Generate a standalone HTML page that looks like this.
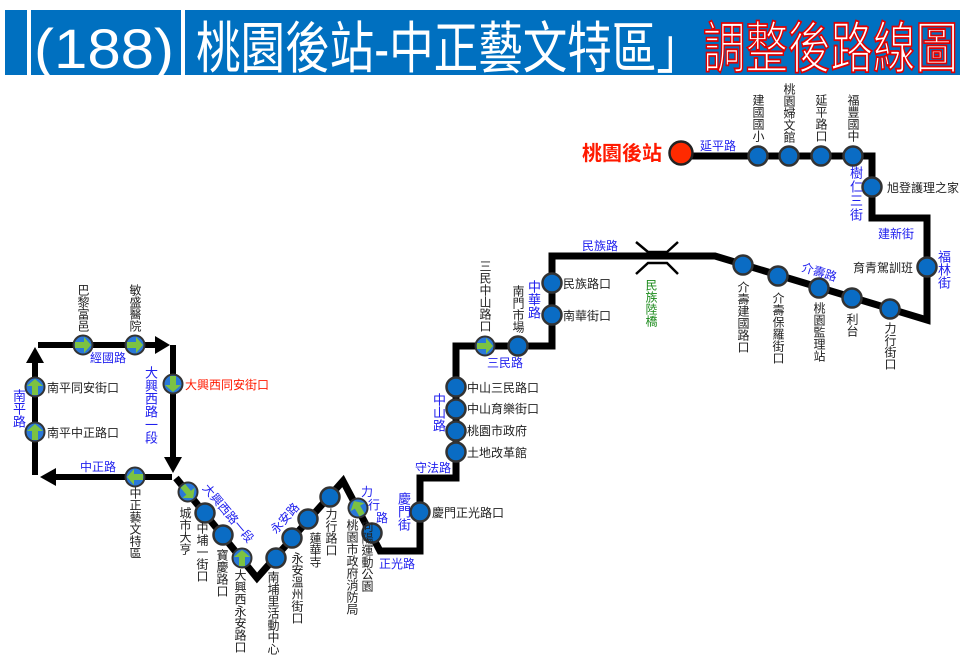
<!DOCTYPE html>
<html><head><meta charset="utf-8"><style>
body{margin:0;background:#fff;}
#w{position:relative;width:960px;height:665px;overflow:hidden;font-family:"Liberation Sans","Noto Sans CJK TC",sans-serif;}
svg{position:absolute;left:0;top:0;}
.v{position:absolute;writing-mode:vertical-rl;font-size:12px;line-height:12px;width:12px;color:#222;white-space:nowrap;font-family:"Liberation Sans","Noto Sans CJK TC",sans-serif;}
.b{color:#2020ee;font-size:13px;line-height:13px;width:13px;}
.g{color:#1a8a1a;}
</style></head><body><div id="w">
<svg width="960" height="665" viewBox="0 0 960 665" font-family="Liberation Sans, Noto Sans CJK TC, sans-serif">
<defs>
<g id="st"><circle r="9.5" fill="#0a6cc4" stroke="#333" stroke-width="2.5"/></g>
<g id="ga"><circle r="9.5" fill="#2a78d8" stroke="#333" stroke-width="2"/><path d="M-8,-3 H1 V-8 L8,0 L1,8 V3 H-8 Z" fill="#7cc242"/></g>
</defs>
<rect x="5" y="10" width="955" height="65" fill="#0070c0"/>
<rect x="27" y="10" width="4" height="65" fill="#fff"/>
<text x="34" y="68" font-size="56" fill="#fff" textLength="140" lengthAdjust="spacingAndGlyphs">(188)</text>
<rect x="181" y="10" width="4" height="65" fill="#fff"/>
<text x="196" y="68" font-size="56" fill="#fff" textLength="505" lengthAdjust="spacingAndGlyphs">桃園後站-中正藝文特區」</text>
<text x="703" y="68" font-size="56" fill="#fff" stroke="#e00000" stroke-width="1.8" textLength="255" lengthAdjust="spacingAndGlyphs">調整後路線圖</text>

<g fill="none" stroke="#000" stroke-width="7" stroke-linejoin="miter">
<polyline points="681,156 872,156 872,218 927,218 927,320 715,256 552,256 552,346 456,346 456,478 420,478 420,551 380,551 343,481 257,578 176,478"/>
</g>
<g stroke="#000" stroke-width="6" fill="none">
<line x1="38" y1="345" x2="157" y2="345"/>
<line x1="173" y1="345" x2="173" y2="458"/>
<line x1="172" y1="477" x2="55" y2="477"/>
<line x1="35" y1="475" x2="35" y2="362"/>
</g>
<g fill="#000">
<polygon points="155,336 170,345 155,354"/>
<polygon points="164,457 173,473 182,457"/>
<polygon points="56,468 40,477 56,486"/>
<polygon points="26,363 35,347 44,363"/>
</g>
<circle cx="681" cy="153" r="11.5" fill="#ff2a00" stroke="#222" stroke-width="2.5"/>
<g>
<use href="#st" x="758" y="156"/><use href="#st" x="789" y="156"/><use href="#st" x="821" y="156"/><use href="#st" x="853" y="156"/>
<use href="#st" x="872" y="187"/><use href="#st" x="927" y="267"/>
<use href="#st" x="890" y="309"/><use href="#st" x="852" y="298"/><use href="#st" x="819" y="288"/><use href="#st" x="778" y="276"/><use href="#st" x="743" y="265"/>
<use href="#st" x="552" y="283"/><use href="#st" x="552" y="315"/><use href="#st" x="518" y="346"/>
<use href="#st" x="456" y="387"/><use href="#st" x="456" y="409"/><use href="#st" x="456" y="431"/><use href="#st" x="456" y="452"/>
<use href="#st" x="420" y="512"/><use href="#st" x="372" y="533"/>
<use href="#st" x="330" y="497"/><use href="#st" x="308" y="519"/><use href="#st" x="292" y="538"/><use href="#st" x="276" y="558"/>
<use href="#st" x="223" y="535"/><use href="#st" x="205" y="513"/>
<use href="#ga" x="485" y="346"/>
<use href="#ga" transform="translate(358,508) rotate(-120)"/>
<use href="#ga" transform="translate(242,558) rotate(-90)"/>
<use href="#ga" transform="translate(188,492) rotate(50)"/>
<use href="#ga" x="83" y="345"/><use href="#ga" x="135" y="345"/>
<use href="#ga" transform="translate(173,384) rotate(90)"/>
<use href="#ga" transform="translate(135,477) rotate(180)"/>
<use href="#ga" transform="translate(35,387) rotate(-90)"/>
<use href="#ga" transform="translate(35,432) rotate(-90)"/>
</g>
<g stroke="#000" stroke-width="2.5" fill="none">
<polyline points="636,242 648,252 667,252 678,242"/>
<polyline points="636,274 648,263 667,263 678,274"/>
</g>
<text x="662" y="160" font-size="20" fill="#ff1a00" text-anchor="end" font-weight="bold">桃園後站</text>
<g font-size="12" fill="#2020ee" text-anchor="middle">
<text x="718" y="150">延平路</text>
<text x="896" y="238">建新街</text>
<text x="600" y="250">民族路</text>
<text x="505" y="367">三民路</text>
<text x="433" y="472">守法路</text>
<text x="397" y="568">正光路</text>
<text x="108" y="362">經國路</text>
<text x="98" y="471">中正路</text>
<text transform="translate(818,276) rotate(17)">介壽路</text>
<text transform="translate(288,521) rotate(-48)">永安路</text>
<text transform="translate(225,516) rotate(50)">大興西路一段</text>
<text x="367" y="496">力</text><text x="374" y="509">行</text><text x="382" y="522">路</text>
</g>
<g font-size="12" fill="#222">
<text x="887" y="192">旭登護理之家</text>
<text x="913" y="272" text-anchor="end">育青駕訓班</text>
<text x="563" y="288">民族路口</text>
<text x="563" y="320">南華街口</text>
<text x="467" y="392">中山三民路口</text>
<text x="467" y="413">中山育樂街口</text>
<text x="467" y="435">桃園市政府</text>
<text x="467" y="457">土地改革館</text>
<text x="432" y="517">慶門正光路口</text>
<text x="47" y="392">南平同安街口</text>
<text x="47" y="437">南平中正路口</text>
<text x="185" y="389" fill="#ff1a00">大興西同安街口</text>
</g>
</svg>
<div class="v" style="left:752px;top:94px">建國國小</div>
<div class="v" style="left:783px;top:83px">桃園婦文館</div>
<div class="v" style="left:815px;top:94px">延平路口</div>
<div class="v" style="left:847px;top:94px">福豐國中</div>
<div class="v b" style="left:849px;top:166px;letter-spacing:1px">樹仁三街</div>
<div class="v b" style="left:937px;top:250px">福林街</div>
<div class="v" style="left:737px;top:281px">介壽建國路口</div>
<div class="v" style="left:772px;top:292px">介壽保羅街口</div>
<div class="v" style="left:813px;top:302px">桃園監理站</div>
<div class="v" style="left:846px;top:313px">利台</div>
<div class="v" style="left:884px;top:322px">力行街口</div>
<div class="v g" style="left:645px;top:279px">民族陸橋</div>
<div class="v" style="left:479px;top:260px">三民中山路口</div>
<div class="v" style="left:512px;top:285px">南門市場</div>
<div class="v b" style="left:527px;top:280px">中華路</div>
<div class="v b" style="left:432px;top:393px">中山路</div>
<div class="v b" style="left:397px;top:492px">慶門街</div>
<div class="v" style="left:346px;top:519px">桃園市政府消防局</div>
<div class="v" style="left:361px;top:520px">向陽運動公園</div>
<div class="v" style="left:325px;top:508px">力行路口</div>
<div class="v" style="left:309px;top:532px">蓮華寺</div>
<div class="v" style="left:291px;top:552px">永安溫州街口</div>
<div class="v" style="left:267px;top:571px">南埔里活動中心</div>
<div class="v" style="left:234px;top:569px">大興西永安路口</div>
<div class="v" style="left:216px;top:549px">寶慶路口</div>
<div class="v" style="left:196px;top:522px">中埔一街口</div>
<div class="v" style="left:179px;top:507px">城市大亨</div>
<div class="v" style="left:77px;top:284px">巴黎富邑</div>
<div class="v" style="left:129px;top:284px">敏盛醫院</div>
<div class="v b" style="left:144px;top:366px">大興西路一段</div>
<div class="v b" style="left:12px;top:389px">南平路</div>
<div class="v" style="left:129px;top:487px">中正藝文特區</div>
</div></body></html>
